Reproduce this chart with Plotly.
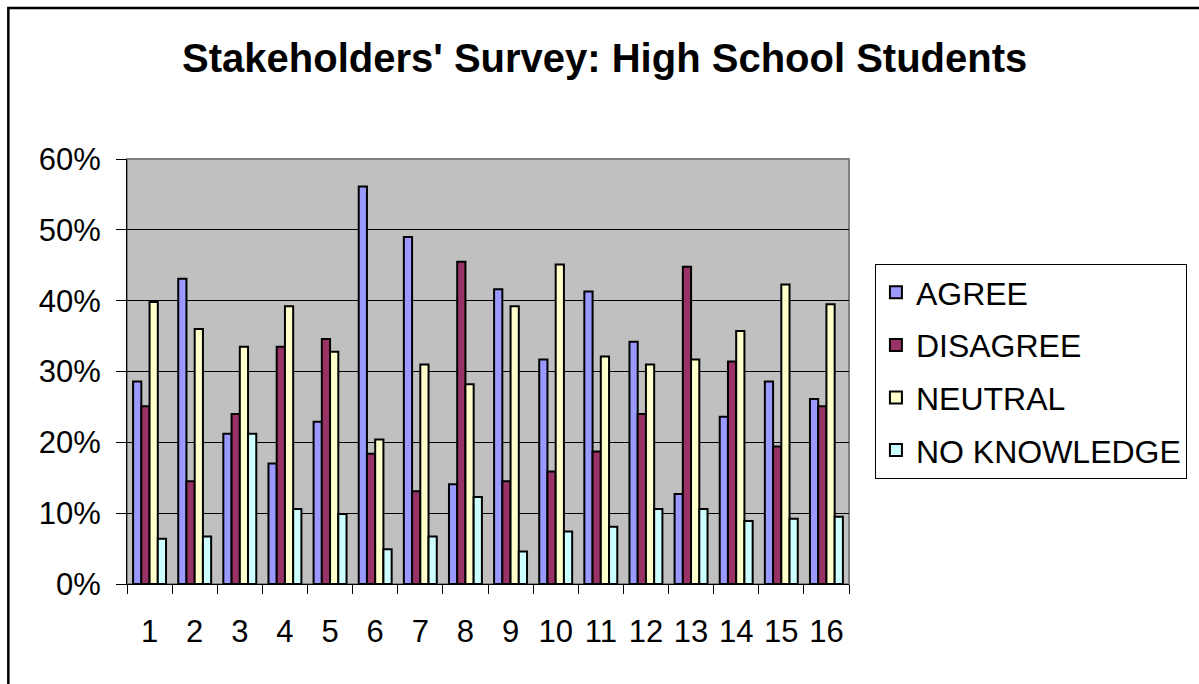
import plotly.graph_objects as go

W, H = 1199, 684
L, R, T, B = 127, 348, 159, 100

categories = [str(i) for i in range(1, 17)]

agree = [28.6, 43.1, 21.2, 17.0, 22.9, 56.1, 49.0, 14.1, 41.6, 31.7, 41.3, 34.2, 12.7, 23.6, 28.6, 26.1]
disagree = [25.1, 14.5, 24.0, 33.5, 34.6, 18.4, 13.1, 45.5, 14.5, 15.9, 18.7, 24.0, 44.8, 31.4, 19.4, 25.1]
neutral = [39.8, 36.0, 33.5, 39.2, 32.8, 20.4, 31.0, 28.2, 39.2, 45.1, 32.1, 31.0, 31.7, 35.7, 42.3, 39.5]
no_knowledge = [6.4, 6.7, 21.2, 10.6, 9.9, 4.9, 6.7, 12.3, 4.6, 7.4, 8.1, 10.6, 10.6, 8.9, 9.2, 9.5]

series = [
    ("AGREE", agree, "#9999FF"),
    ("DISAGREE", disagree, "#993366"),
    ("NEUTRAL", neutral, "#FFFFCC"),
    ("NO KNOWLEDGE", no_knowledge, "#CCFFFF"),
]

FONT = "Liberation Sans, Arial, sans-serif"

fig = go.Figure()
for name, vals, color in series:
    fig.add_trace(go.Bar(
        name=name,
        x=categories,
        y=[v / 100 for v in vals],
        marker=dict(color=color, line=dict(color="black", width=2)),
        legendgroup=name,
    ))

pw = W - L - R
ph = H - T - B

def px_x(x):
    return (x - L) / pw

def px_y(y):
    return (H - B - y) / ph

fig.update_layout(
    width=W, height=H,
    margin=dict(l=L, r=R, t=T, b=B),
    paper_bgcolor="white",
    plot_bgcolor="#C0C0C0",
    barmode="group",
    bargap=0.27,
    bargroupgap=0,
    font=dict(family=FONT, color="black", size=31),
    title=dict(
        text="<b>Stakeholders' Survey: High School Students</b>",
        x=px_x(606), xref="paper", xanchor="center",
        y=1 - 58 / H, yanchor="middle",
        font=dict(size=40, family=FONT, color="black"),
    ),
    legend=dict(
        x=px_x(877), y=px_y(264), xanchor="left", yanchor="top",
        bgcolor="white", bordercolor="black", borderwidth=1,
        font=dict(size=32, family=FONT, color="black"),
        tracegroupgap=8,
        traceorder="grouped",
    ),
    showlegend=True,
    xaxis=dict(
        type="category",
        tickson="boundaries",
        ticks="outside", ticklen=9, tickcolor="black", tickwidth=1,
        showline=True, linecolor="black", linewidth=1,
        showgrid=False,
        ticklabelstandoff=20,
        tickfont=dict(size=31, family=FONT, color="black"),
    ),
    yaxis=dict(
        range=[0, 0.6], dtick=0.1, tickformat=".0%",
        ticks="outside", ticklen=10, tickcolor="black", tickwidth=1,
        showline=True, linecolor="black", linewidth=1,
        showgrid=True, gridcolor="black", gridwidth=1,
        zeroline=False,
        ticklabelstandoff=9,
        tickfont=dict(size=31, family=FONT, color="black"),
    ),
    shapes=[
        # plot-area border
        dict(type="rect", xref="x domain", yref="y domain", x0=0, x1=1, y0=0, y1=1,
             line=dict(color="#808080", width=2), layer="below"),
        # chart frame
        dict(type="rect", xref="paper", yref="paper",
             x0=px_x(8), x1=px_x(1215), y0=px_y(8), y1=px_y(700),
             line=dict(color="black", width=2.5), layer="above"),
    ],
)

fig.write_html("out.html")
